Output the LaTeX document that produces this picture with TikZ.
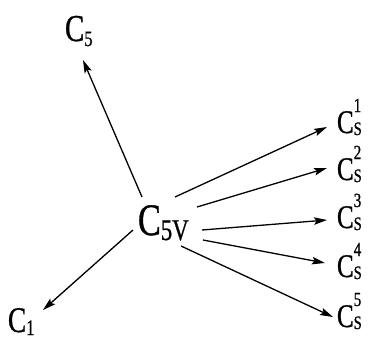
\documentclass[tikz,border=0pt]{standalone}
\usepackage{fontspec}
\setmainfont{Liberation Serif}[FakeStretch=0.76,FakeBold=0.8]
\usetikzlibrary{arrows.meta,calc}
\newcommand{\fsz}[1]{\fontsize{#1}{#1}\selectfont}
\newcommand{\csl}[1]{\fsz{33}C\rlap{\raisebox{21pt}{\fsz{20}#1}}\raisebox{-2pt}{\fsz{19}S}}
\begin{document}
\begin{tikzpicture}[x=1pt,y=-1pt,
  lbl/.style={anchor=base west,inner sep=0pt,outer sep=0pt},
  arr/.style={line width=1.3pt,-{Stealth[length=13pt,width=7.5pt,inset=2.5pt]}}]
\useasboundingbox (0,0) rectangle (376,341);
\node[lbl] (c5v) at (138,235) {\fsz{45}C\raisebox{-5pt}{\fsz{30}5V}};
\node[lbl] (c5) at (65,41) {\fsz{38}C\raisebox{-5pt}{\fsz{22}5}};
\node[lbl] (c1) at (8,332) {\fsz{36}C\raisebox{-3pt}{\fsz{22}1}};
\node[lbl] (s1) at (337,133) {\csl{1}};
\node[lbl] (s2) at (337,180) {\csl{2}};
\node[lbl] (s3) at (337,228) {\csl{3}};
\node[lbl] (s4) at (337,277) {\csl{4}};
\node[lbl] (s5) at (337,327) {\csl{5}};
\draw[arr] ($(c5v.base west)+(4,-38)$) -- ($(c5.base west)+(18,19)$);
\draw[arr] ($(c5v.base west)+(-5,-5)$) -- ($(c1.base west)+(35,-22)$);
\draw[arr] ($(c5v.base west)+(37,-38)$) -- ($(s1.base west)+(-10,-6)$);
\draw[arr] ($(c5v.base west)+(59,-28)$) -- ($(s2.base west)+(-10,-12)$);
\draw[arr] ($(c5v.base west)+(64,-5)$) -- ($(s3.base west)+(-10,-8)$);
\draw[arr] ($(c5v.base west)+(65,5)$) -- ($(s4.base west)+(-12,-14)$);
\draw[arr] ($(c5v.base west)+(43,11)$) -- ($(s5.base west)+(-4,-10)$);
\end{tikzpicture}
\end{document}
